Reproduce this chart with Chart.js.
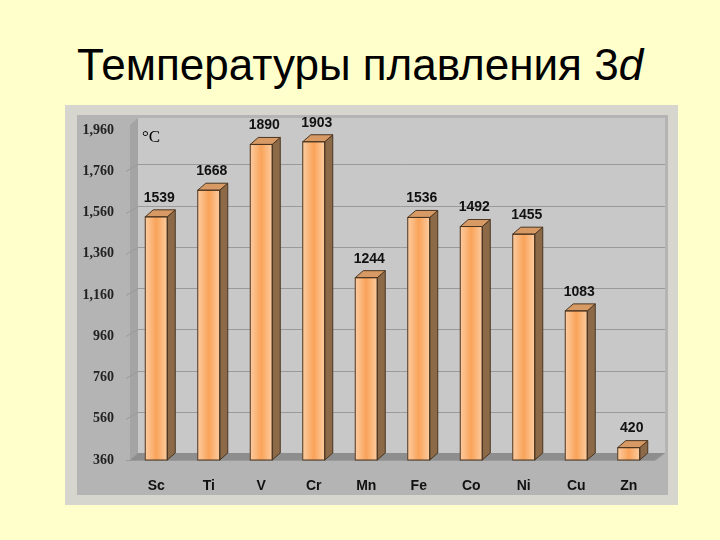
<!DOCTYPE html>
<html lang="ru">
<head>
<meta charset="UTF-8">
<script src="https://cdn.jsdelivr.net/npm/chart.js"></script>
<style>
  body { margin: 0; width: 720px; height: 540px; background: #ffffcc; position: relative; overflow: hidden; }
  h1 { position: absolute; top: 40px; left: 0; width: 720px; margin: 0; text-align: center;
       font: normal 44px 'Liberation Sans', Arial, sans-serif; color: #000; }
  #wrap { position: absolute; left: 65px; top: 105px; width: 613px; height: 400px; }
</style>
</head>
<body>
<h1>Температуры плавления 3<i>d</i></h1>
<div id="wrap"><canvas id="c"></canvas></div>
<script>
const elements = ['Sc', 'Ti', 'V', 'Cr', 'Mn', 'Fe', 'Co', 'Ni', 'Cu', 'Zn'];
const meltingPoints = [1539, 1668, 1890, 1903, 1244, 1536, 1492, 1455, 1083, 420];
const yMin = 360, yMax = 1960, yStep = 200;

const DX = 8, DY = 7;

const frame3d = {
  id: 'frame3d',
  beforeDraw(chart) {
    const { ctx, chartArea: a, scales: { y } } = chart;
    ctx.save();
    ctx.fillStyle = '#d6d6ce';
    ctx.fillRect(0, 0, chart.width, chart.height);
    ctx.fillStyle = '#b4b4b4';
    ctx.fillRect(12, 10, 591, 380);
    // back wall
    ctx.fillStyle = '#c8c8c8';
    ctx.fillRect(a.left + DX, a.top - 12, a.right - a.left + 2, a.bottom - a.top + 12 - DY);
    // left wall
    ctx.fillStyle = '#a4a4a4';
    ctx.beginPath();
    ctx.moveTo(a.left, a.top - 12 + DY); ctx.lineTo(a.left + DX, a.top - 12);
    ctx.lineTo(a.left + DX, a.bottom - DY); ctx.lineTo(a.left, a.bottom);
    ctx.closePath(); ctx.fill();
    // floor
    ctx.fillStyle = '#8e8e8e';
    ctx.beginPath();
    ctx.moveTo(a.left, a.bottom); ctx.lineTo(a.left + DX, a.bottom - DY);
    ctx.lineTo(a.right + DX + 2, a.bottom - DY); ctx.lineTo(a.right, a.bottom);
    ctx.closePath(); ctx.fill();
    // grid lines
    ctx.strokeStyle = '#9a9a9a'; ctx.lineWidth = 1;
    for (let v = yMin + yStep; v < yMax; v += yStep) {
      const py = Math.round(y.getPixelForValue(v)) + 0.5;
      ctx.beginPath();
      ctx.moveTo(a.left - 4, py); ctx.lineTo(a.left + DX, py - DY);
      ctx.lineTo(a.right + DX + 2, py - DY);
      ctx.stroke();
    }
    ctx.beginPath();
    ctx.moveTo(a.left - 4, a.bottom + 0.5); ctx.lineTo(a.right, a.bottom + 0.5);
    ctx.lineTo(a.right + DX + 2, a.bottom - DY);
    ctx.stroke();
    ctx.fillStyle = '#000';
    ctx.font = '17px "Liberation Serif", serif';
    ctx.textAlign = 'left'; ctx.textBaseline = 'middle';
    ctx.fillText('°C', a.left + 12, a.top + 8);
    ctx.restore();
  },
  afterDatasetsDraw(chart) {
    const { ctx } = chart;
    const meta = chart.getDatasetMeta(0);
    ctx.save();
    meta.data.forEach((bar, i) => {
      const l = bar.x - bar.width / 2, r = bar.x + bar.width / 2, t = bar.y, b = bar.base;
      ctx.strokeStyle = '#4a3520'; ctx.lineWidth = 1;
      ctx.fillStyle = '#8c6a48';
      ctx.beginPath();
      ctx.moveTo(r, t); ctx.lineTo(r + DX, t - DY); ctx.lineTo(r + DX, b - DY); ctx.lineTo(r, b);
      ctx.closePath(); ctx.fill(); ctx.stroke();
      ctx.fillStyle = '#d89a64';
      ctx.beginPath();
      ctx.moveTo(l, t); ctx.lineTo(l + DX, t - DY); ctx.lineTo(r + DX, t - DY); ctx.lineTo(r, t);
      ctx.closePath(); ctx.fill(); ctx.stroke();
      ctx.strokeRect(l, t, r - l, b - t);
      ctx.fillStyle = '#111';
      ctx.font = 'bold 14px "Liberation Sans", Arial, sans-serif';
      ctx.textAlign = 'center'; ctx.textBaseline = 'bottom';
      ctx.fillText(meltingPoints[i], bar.x + 3, t - DY - 5);
    });
    ctx.restore();
  }
};

new Chart(document.getElementById('c'), {
  type: 'bar',
  data: {
    labels: elements,
    datasets: [{
      data: meltingPoints,
      base: yMin,
      barThickness: 22,
      borderWidth: 0,
      backgroundColor: (c) => {
        const xs = c.chart.scales && c.chart.scales.x;
        const cx = xs ? xs.getPixelForValue(c.dataIndex) : NaN;
        if (!Number.isFinite(cx)) return '#f8b47a';
        const g = c.chart.ctx.createLinearGradient(cx - 11, 0, cx + 11, 0);
        g.addColorStop(0, '#fccca0');
        g.addColorStop(0.5, '#f9a35a');
        g.addColorStop(1, '#fccca0');
        return g;
      }
    }]
  },
  options: {
    responsive: true,
    maintainAspectRatio: false,
    animation: false,
    layout: { padding: { top: 25, right: 23, left: 0, bottom: 0 } },
    plugins: { legend: { display: false }, tooltip: { enabled: false } },
    scales: {
      y: {
        min: yMin, max: yMax,
        ticks: { stepSize: yStep, color: '#222', padding: 8,
                 font: { family: '"Liberation Serif", serif', size: 14, weight: 'bold' } },
        grid: { display: false }, border: { display: false },
        afterFit: (s) => { s.width = 65; }
      },
      x: {
        ticks: { color: '#111', padding: 10,
                 font: { family: '"Liberation Sans", Arial, sans-serif', size: 14, weight: 'bold' } },
        grid: { display: false }, border: { display: false },
        afterFit: (s) => { s.height = 45; }
      }
    }
  },
  plugins: [frame3d]
});
</script>
</body>
</html>
